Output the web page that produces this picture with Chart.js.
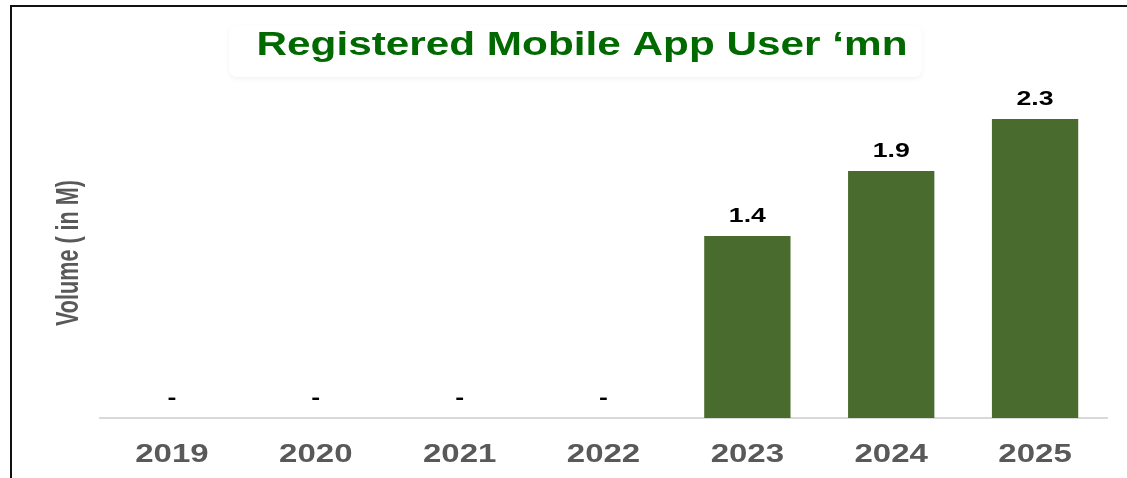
<!DOCTYPE html>
<html>
<head>
<meta charset="utf-8">
<script src="https://cdn.jsdelivr.net/npm/chart.js@4.4.1/dist/chart.umd.min.js"></script>
<style>
  html, body { margin: 0; padding: 0; background: #fff; }
  canvas { display: block; }
</style>
</head>
<body>
<canvas id="myChart" width="1127" height="478"></canvas>
<script>
const years = ['2019', '2020', '2021', '2022', '2023', '2024', '2025'];
const users = [0, 0, 0, 0, 1.4, 1.9, 2.3];
const chartTitle = 'Registered Mobile App User \u2018mn';
const axisTitle = 'Volume ( in M)';

// the source picture is stretched sideways, so text gets squeezed/stretched to match
const STRETCH = 1.27;
const GREY = '#595959';

function drawText(ctx, text, x, y, font, color, sx) {
  ctx.save();
  ctx.font = font;
  ctx.fillStyle = color;
  ctx.textAlign = 'center';
  ctx.textBaseline = 'alphabetic';
  ctx.translate(x, y);
  ctx.scale(sx, 1);
  ctx.fillText(text, 0, 0);
  ctx.restore();
}

const frame = {
  id: 'frame',
  beforeDraw(chart) {
    const ctx = chart.ctx;
    ctx.save();
    ctx.fillStyle = '#fff';
    ctx.fillRect(0, 0, chart.width, chart.height);
    // outer border (only top and left show inside the crop)
    ctx.strokeStyle = '#111';
    ctx.lineWidth = 2;
    ctx.strokeRect(11, 6, chart.width + 20, chart.height + 20);
    // faint box behind the title
    ctx.shadowColor = 'rgba(0,0,0,0.05)';
    ctx.shadowBlur = 5;
    ctx.shadowOffsetY = 2;
    ctx.fillStyle = '#fff';
    ctx.beginPath();
    ctx.roundRect(229, 25, 693, 52, 8);
    ctx.fill();
    ctx.restore();
  },
  afterDraw(chart) {
    const ctx = chart.ctx;
    const xs = chart.scales.x;

    // title
    const titleFont = 'bold 33px "Liberation Sans", Arial, sans-serif';
    ctx.save();
    ctx.font = titleFont;
    const tw = ctx.measureText(chartTitle).width;
    ctx.restore();
    drawText(ctx, chartTitle, 582, 55, titleFont, '#006a00', 651 / tw);

    // y axis title, squeezed along its length
    ctx.save();
    ctx.font = 'bold 25px "Liberation Sans", Arial, sans-serif';
    const aw = ctx.measureText(axisTitle).width;
    ctx.fillStyle = GREY;
    ctx.textAlign = 'center';
    ctx.textBaseline = 'middle';
    ctx.translate(69, 253);
    ctx.scale(STRETCH, 1);
    ctx.rotate(-Math.PI / 2);
    ctx.scale(146 / aw, 1);
    ctx.fillText(axisTitle, 0, 0);
    ctx.restore();

    // category labels
    years.forEach((y, i) => {
      drawText(ctx, y, xs.getPixelForValue(i), 462, 'bold 26px "Liberation Sans", Arial, sans-serif', GREY, STRETCH);
    });

    // value labels
    const meta = chart.getDatasetMeta(0);
    meta.data.forEach((bar, i) => {
      const v = users[i];
      const txt = v === 0 ? '-' : v.toFixed(1);
      drawText(ctx, txt, bar.x, bar.y - 14, 'bold 21px "Liberation Sans", Arial, sans-serif', '#000', STRETCH);
    });
  }
};

new Chart(document.getElementById('myChart'), {
  type: 'bar',
  data: {
    labels: years,
    datasets: [{
      data: users,
      backgroundColor: '#4a6b2e',
      barPercentage: 0.6,
      categoryPercentage: 1.0
    }]
  },
  options: {
    responsive: false,
    animation: false,
    layout: { padding: { left: 100, right: 20, top: 80, bottom: 60 } },
    plugins: {
      legend: { display: false },
      tooltip: { enabled: false }
    },
    scales: {
      x: {
        grid: { display: false, drawTicks: false },
        border: { color: '#d9d9d9', width: 2 },
        ticks: { display: false }
      },
      y: {
        display: false,
        min: 0,
        max: 2.6
      }
    }
  },
  plugins: [frame]
});
</script>
</body>
</html>
